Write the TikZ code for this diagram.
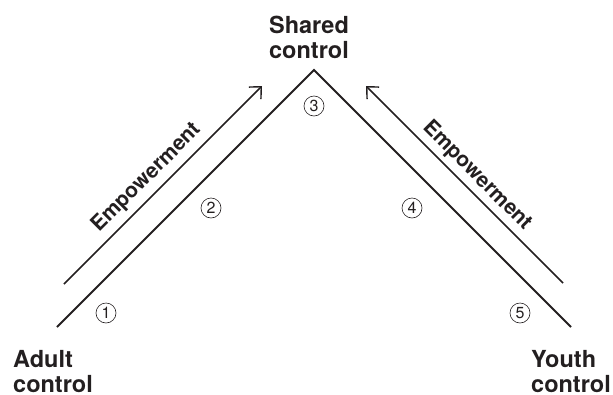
\documentclass[tikz,border=0pt]{standalone}
\usepackage{fontspec}
\setmainfont{TeX Gyre Heros}
\usetikzlibrary{arrows.meta}
\definecolor{ink}{HTML}{231F20}
\begin{document}
\begin{tikzpicture}[x=1pt,y=-1pt,
  vline/.style={draw=ink,line width=2pt},
  emparrow/.style={draw=ink,line width=1.6pt,-{Straight Barb[length=9pt,width=17pt,line width=1.4pt]}},
  biglabel/.style={text=ink,font=\fontsize{23.5}{25}\selectfont\bfseries,align=left,inner sep=0pt},
  emplabel/.style={text=ink,font=\fontsize{21}{22}\selectfont\bfseries,inner sep=0pt},
  num/.style={circle,draw=ink,line width=0.6pt,minimum size=20pt,inner sep=0pt,text=ink,font=\fontsize{16}{16}\selectfont}]
\useasboundingbox (0,0) rectangle (613,394);
\coordinate (L) at (57,327);
\coordinate (T) at (314,70);
\coordinate (R) at (571,327);
\draw[vline] (L) -- (T) -- (R);
\coordinate (a1s) at (64,284);
\coordinate (a1e) at (262,86);
\coordinate (a2s) at (563,283);
\coordinate (a2e) at (366,86);
\draw[emparrow] (a1s) -- (a1e);
\draw[emparrow] (a2s) -- (a2e);
\node[emplabel,rotate=45] (e1) at (147,178) {Empowerment};
\node[emplabel,rotate=-45] (e2) at (477,176) {Empowerment};
\node[biglabel,align=center,anchor=north] (shared) at (309,16) {Shared\\control};
\node[biglabel,anchor=north west] (adult) at (13,350) {Adult\\control};
\node[biglabel,anchor=north west] (youth) at (531,350) {Youth\\control};
\node[num] (n1) at (106,313) {1};
\node[num] (n2) at (211,208) {2};
\node[num] (n3) at (314,106) {3};
\node[num] (n4) at (412,208) {4};
\node[num] (n5) at (520,313) {5};
\end{tikzpicture}
\end{document}
